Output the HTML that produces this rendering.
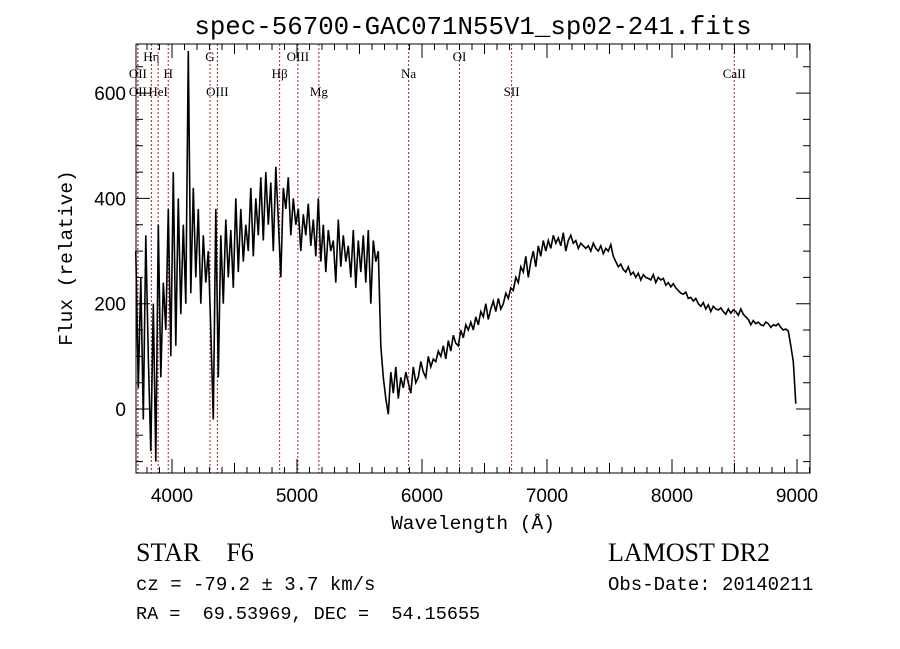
<!DOCTYPE html>
<html><head><meta charset="utf-8"><style>
html,body{margin:0;padding:0;background:#fff;}
svg text{fill:#000;}
</style></head><body>
<svg id="chart" width="900" height="649" xmlns="http://www.w3.org/2000/svg" style="display:block">
<rect x="0" y="0" width="900" height="649" fill="#fff"/>
<text x="473" y="34" font-family="Liberation Mono, monospace" font-size="25.8" text-anchor="middle">spec-56700-GAC071N55V1_sp02-241.fits</text>
<g id="lines"></g>
<g id="plot"></g>
<g id="axes"></g>
<text x="473" y="529" font-family="Liberation Mono, monospace" font-size="19.5" text-anchor="middle">Wavelength (Å)</text>
<text transform="translate(72,258) rotate(-90)" font-family="Liberation Mono, monospace" font-size="19.5" text-anchor="middle">Flux (relative)</text>
<text x="136" y="561" font-family="Liberation Serif, serif" font-size="26" xml:space="preserve">STAR    F6</text>
<text x="608" y="561" font-family="Liberation Serif, serif" font-size="26">LAMOST DR2</text>
<text x="136" y="590" font-family="Liberation Mono, monospace" font-size="19" xml:space="preserve">cz = -79.2 ± 3.7 km/s</text>
<text x="608" y="590" font-family="Liberation Mono, monospace" font-size="19">Obs-Date: 20140211</text>
<text x="136" y="619" font-family="Liberation Mono, monospace" font-size="18.5" xml:space="preserve">RA =  69.53969, DEC =  54.15655</text>
</svg>
<script>
const lamStart = 3710;
const lamStep = 20;
const flux = [
300,40,250,-20,330,100,-80,200,-100,350,60,240,150,380,100,
450,120,400,180,350,200,680,220,420,250,380,200,330,240,300,
150,-20,380,60,330,200,360,250,340,230,400,260,380,280,350,
300,420,290,400,330,440,320,450,350,430,300,460,360,250,420,
380,440,330,400,350,380,300,370,330,390,310,360,290,400,280,
350,260,340,300,320,240,360,270,330,280,310,250,340,230,320,
260,330,240,340,200,320,280,300,120,60,20,-10,70,30,80,
20,60,40,70,50,30,80,50,60,90,70,60,100,80,95,
90,110,100,120,95,130,110,140,125,120,150,135,160,150,165,
150,175,160,185,175,200,170,190,205,185,210,190,200,220,210,
230,225,250,240,270,260,290,250,280,300,270,310,290,320,300,
320,305,330,315,325,310,335,300,320,330,315,320,305,315,310,
305,310,300,315,305,300,310,295,305,300,312,290,280,270,275,
265,260,270,255,260,250,258,245,255,250,248,245,255,240,250,
245,248,235,240,232,238,230,225,220,218,222,210,212,205,210,
200,195,202,190,198,185,195,190,188,192,185,180,190,182,188,
185,178,190,180,175,170,160,168,162,165,160,158,165,162,155,
160,158,162,155,150,152,148,120,90,10
];
const lineNames = ["OII","Hη","OII","HeI","H","G","OIII","Hβ","OIII","Mg","Na","OI","SII","CaII"];
const lineWaves = [3727,3835,3727,3889,3970,4304,4363,4861,5007,5175,5893,6300,6717,8498];
const lineRows = [2,1,3,3,2,1,3,2,1,3,2,1,3,2];
const xTicks = [4000,5000,6000,7000,8000,9000];
const yTicks = [0,200,400,600];

const X0=136,X1=810,Y0=44,Y1=473;
const xmin=3712, xmax=3712+(X1-X0)/0.125;
const ymin=-122, ymax=(409-Y0)/0.5265;
function xs(l){return X0+(l-xmin)/(xmax-xmin)*(X1-X0);}
function ys(v){return 409-v*0.5265;}
const NS="http://www.w3.org/2000/svg";
function mk(t,a,p){const e=document.createElementNS(NS,t);for(const k in a)e.setAttribute(k,a[k]);p.appendChild(e);return e;}

const lg=document.getElementById('lines');
const rowY=[0,61,78,96];
lineWaves.forEach((w,i)=>{
  const l=mk('line',{x1:xs(w),x2:xs(w),y1:Y0,y2:Y1,stroke:'#a0282a','stroke-width':1,'stroke-dasharray':'2,2'},lg);
  
  
  const t=mk('text',{x:xs(w),y:rowY[lineRows[i]],'font-family':'Liberation Serif, serif','font-size':13,'text-anchor':'middle'},lg);
  t.textContent=lineNames[i];
  
  
});

const pg=document.getElementById('plot');
let d='';
flux.forEach((v,i)=>{const l=lamStart+i*lamStep;d+=(i?'L':'M')+xs(l).toFixed(1)+','+ys(Math.max(ymin,Math.min(ymax,v))).toFixed(1);});
const p=mk('path',{d:d,fill:'none',stroke:'#000','stroke-width':1.6,'stroke-linejoin':'miter'},pg);



const ag=document.getElementById('axes');
const fr=mk('rect',{x:X0,y:Y0,width:X1-X0,height:Y1-Y0,fill:'none',stroke:'#000','stroke-width':1},ag);


let td='';
for(let l=3800;l<=xmax;l+=100){const x=xs(l).toFixed(1);const len=(l%1000===0)?14:(l%500===0?10:6);
  td+=`M${x},${Y1}v${-len}M${x},${Y0}v${len}`;}
for(let v=-100;v<=ymax;v+=50){const y=ys(v).toFixed(1);const len=(v%200===0)?14:7;
  td+=`M${X0},${y}h${len}M${X1},${y}h${-len}`;}
const tk=mk('path',{d:td,stroke:'#000','stroke-width':1,fill:'none'},ag);


xTicks.forEach(v=>{const t=mk('text',{x:xs(v),y:502,'font-family':'Liberation Sans, sans-serif','font-size':19,'text-anchor':'middle'},ag);t.textContent=v;
  
  });
yTicks.forEach(v=>{const t=mk('text',{x:126,y:ys(v)+7,'font-family':'Liberation Sans, sans-serif','font-size':19,'text-anchor':'end'},ag);t.textContent=v;
  
  });
</script>
</body></html>
